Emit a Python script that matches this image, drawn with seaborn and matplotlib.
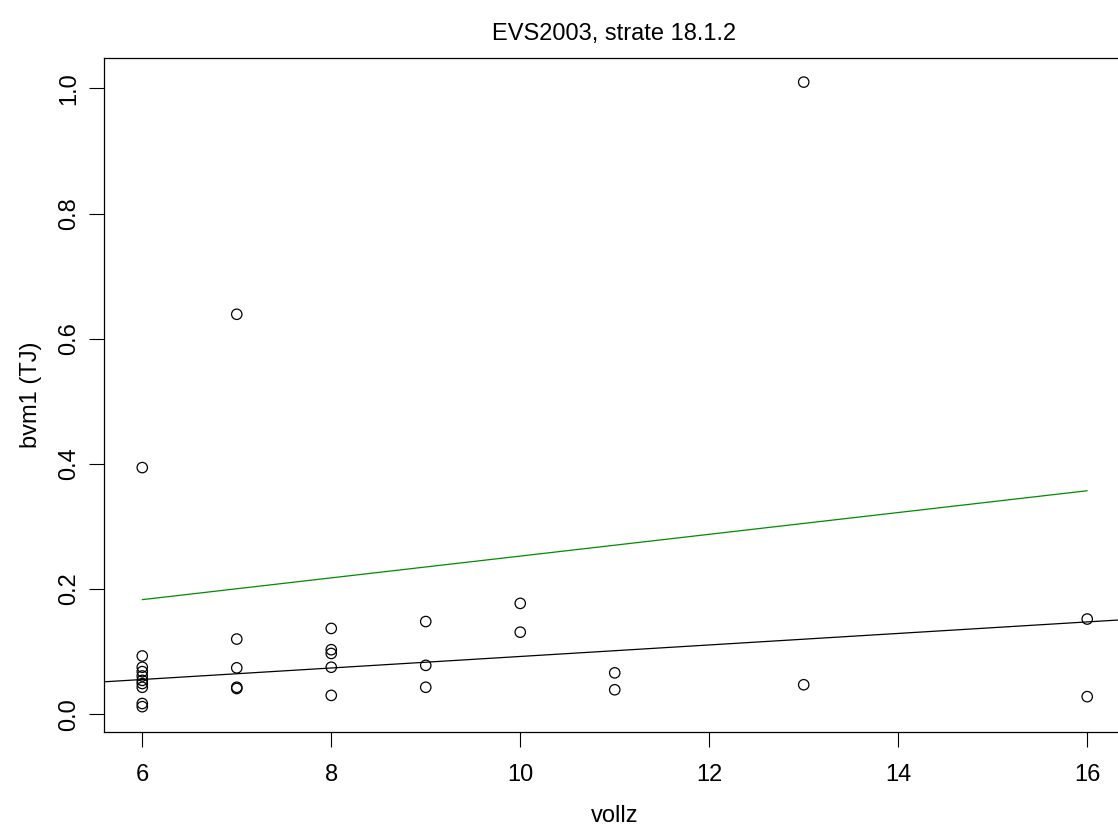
import pandas as pd
import seaborn as sns
import matplotlib
matplotlib.use("Agg")
import matplotlib.pyplot as plt
import numpy as np

# Punkte je vollz-Stufe
vollz = [6, 6, 6, 6, 6, 6, 6, 6, 6, 6,
         7, 7, 7, 7, 7,
         8, 8, 8, 8, 8,
         9, 9, 9,
         10, 10,
         11, 11,
         13, 13,
         16, 16]
bvm1 = [0.394, 0.093, 0.075, 0.068, 0.061, 0.054, 0.049, 0.043, 0.017, 0.012,
        0.639, 0.120, 0.074, 0.043, 0.041,
        0.137, 0.103, 0.097, 0.075, 0.030,
        0.148, 0.078, 0.043,
        0.177, 0.131,
        0.066, 0.039,
        1.010, 0.047,
        0.152, 0.028]

# Regressionsgerade (schwarz, ueber die ganze Breite) und gruene Linie
fit_intercept = 0.0002
fit_slope = 0.0092
green_x = [6, 16]
green_y = [0.183, 0.357]

df = pd.DataFrame({'vollz': vollz, 'bvm1': bvm1})

sns.set_style("ticks")
plt.rcParams['font.family'] = ['Liberation Sans', 'DejaVu Sans']
plt.rcParams['text.color'] = 'black'
plt.rcParams['axes.labelcolor'] = 'black'
plt.rcParams['xtick.color'] = 'black'
plt.rcParams['ytick.color'] = 'black'

fig = plt.figure(figsize=(11.18, 8.33), dpi=100)
ax = fig.add_axes([104 / 1118, 101 / 833, 1021 / 1118, 674 / 833])

sns.scatterplot(data=df, x='vollz', y='bvm1', ax=ax, marker='o', s=56,
                facecolors='none', edgecolor='black', linewidth=0.9)

ax.set_xlim(5.595, 16.4)
ax.set_ylim(-0.0285, 1.0485)

xx = np.array(ax.get_xlim())
ax.plot(xx, fit_intercept + fit_slope * xx, color='black', lw=0.9)
sns.lineplot(x=green_x, y=green_y, ax=ax, color='#008B00', lw=0.9)

ax.set_xticks([6, 8, 10, 12, 14, 16])
ax.set_yticks([0.0, 0.2, 0.4, 0.6, 0.8, 1.0])
ax.set_yticklabels(['0.0', '0.2', '0.4', '0.6', '0.8', '1.0'], rotation=90, va='center')
ax.tick_params(axis='both', direction='out', length=11, width=0.8, labelsize=17)
ax.tick_params(axis='x', pad=12)
ax.tick_params(axis='y', pad=6)

for sp in ax.spines.values():
    sp.set_linewidth(0.9)
    sp.set_color('black')

ax.set_xlabel('vollz', fontsize=17, labelpad=14)
ax.set_ylabel('bvm1 (TJ)', fontsize=17, labelpad=12)

ax.set_title('EVS2003, strate 18.1.2', fontsize=17, pad=13)

fig.savefig('out.png', dpi=100)
